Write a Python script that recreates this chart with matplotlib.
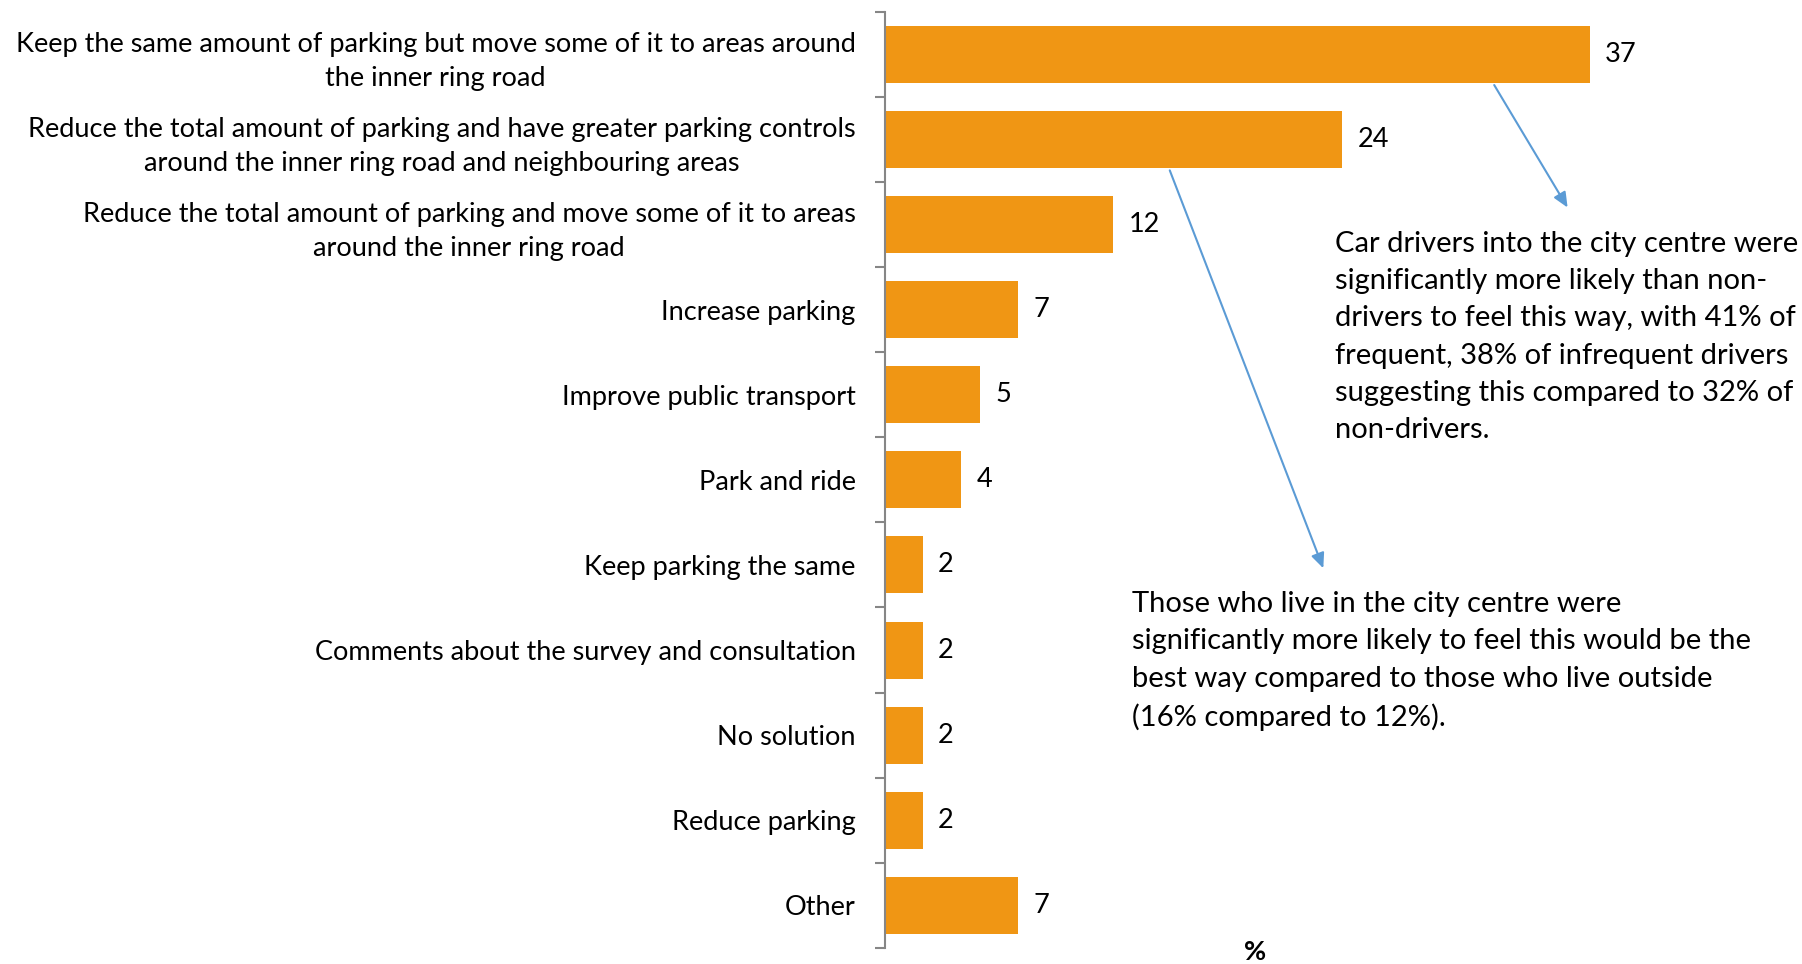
import numpy as np
import matplotlib.pyplot as plt

plt.rcParams['font.family'] = ['Lato', 'DejaVu Sans']

categories = [
    "Keep the same amount of parking but move some of it to areas around\nthe inner ring road",
    "Reduce the total amount of parking and have greater parking controls\naround the inner ring road and neighbouring areas",
    "Reduce the total amount of parking and move some of it to areas\naround the inner ring road",
    "Increase parking",
    "Improve public transport",
    "Park and ride",
    "Keep parking the same",
    "Comments about the survey and consultation",
    "No solution",
    "Reduce parking",
    "Other",
]
values = [37, 24, 12, 7, 5, 4, 2, 2, 2, 2, 7]

note_drivers = ("Car drivers into the city centre were\n"
                "significantly more likely than non-\n"
                "drivers to feel this way, with 41% of\n"
                "frequent, 38% of infrequent drivers\n"
                "suggesting this compared to 32% of\n"
                "non-drivers.")
note_centre = ("Those who live in the city centre were\n"
               "significantly more likely to feel this would be the\n"
               "best way compared to those who live outside\n"
               "(16% compared to 12%).")

bar_color = '#F09614'
arrow_color = '#5B9BD5'
axis_color = '#868686'
fs = 19.5
fs_note = 21

fig = plt.figure(figsize=(18.02, 9.64), dpi=100)
ax = fig.add_axes([0.491, 0.0166, 0.4125, 0.9714])

y = np.arange(len(categories))
bars = ax.barh(y, values, height=0.67, color=bar_color)
ax.bar_label(bars, labels=[str(v) for v in values], padding=11, fontsize=fs)

ax.set_xlim(0, 39)
ax.set_ylim(len(categories) - 0.5, -0.5)
ax.set_xticks([])
ax.set_yticks(y)
ax.set_yticklabels(categories, fontsize=fs, ma='center', linespacing=1.45)
ax.set_yticks(np.arange(len(categories) + 1) - 0.5, minor=True)
ax.tick_params(axis='y', which='major', length=0, pad=21)
ax.tick_params(axis='y', which='minor', length=7, width=1.5, color=axis_color)

for side in ['top', 'right', 'bottom']:
    ax.spines[side].set_visible(False)
ax.spines['left'].set_color(axis_color)
ax.spines['left'].set_linewidth(1.5)

fig.text(0.6965, 0.0, '%', fontsize=fs, fontweight='bold', ha='center', va='bottom')

# callouts pointing from the two largest bars
arrowprops = dict(arrowstyle='-|>,head_length=0.9,head_width=0.4', color=arrow_color, lw=1.5)
ax.annotate('', xy=(35.9, 1.83), xytext=(31.9, 0.335), arrowprops=arrowprops, annotation_clip=False)
ax.annotate('', xy=(23.06, 6.07), xytext=(14.9, 1.335), arrowprops=arrowprops, annotation_clip=False)

ax.text(23.6, 2.08, note_drivers, fontsize=fs_note, va='top', ha='left', linespacing=1.53, clip_on=False)
ax.text(12.95, 6.31, note_centre, fontsize=fs_note, va='top', ha='left', linespacing=1.53, clip_on=False)

fig.savefig('out.png', dpi=100)
